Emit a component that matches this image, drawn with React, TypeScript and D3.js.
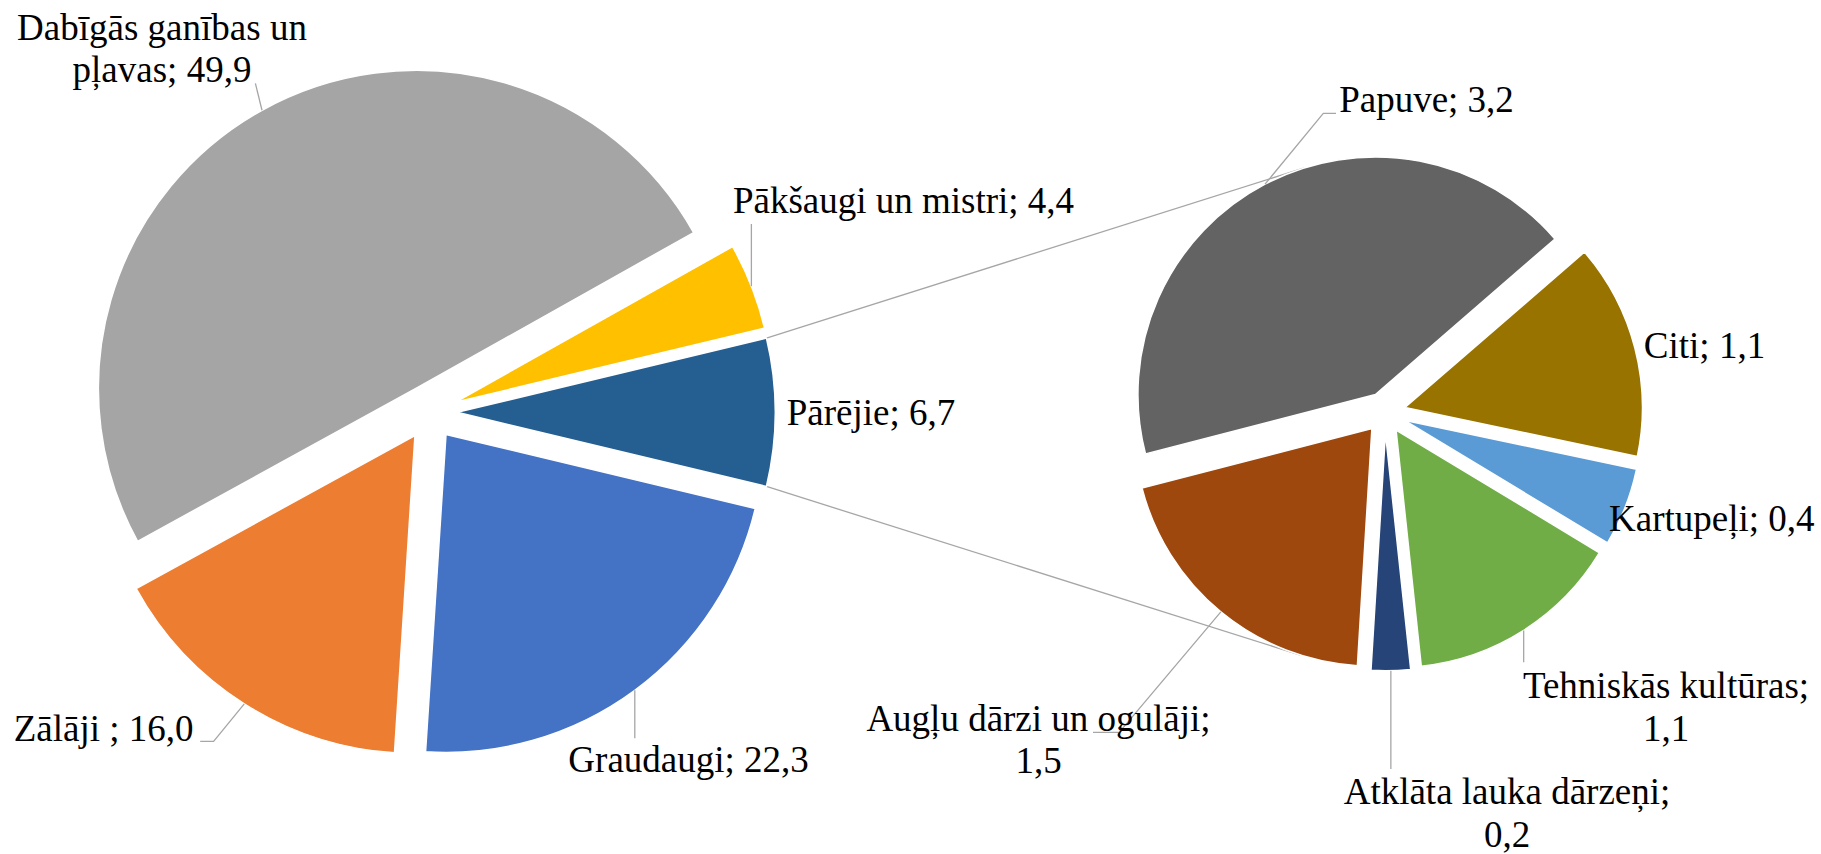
import React from "react";
import * as d3 from "d3";

// ---------- data ----------
const leftCategories = ["Pārējie", "Graudaugi", "Zālāji ", "Dabīgās ganības un pļavas", "Pākšaugi un mistri"];
const leftValues = [6.7, 22.3, 16.0, 49.9, 4.4];
const leftColors = ["#255E91", "#4472C4", "#ED7D31", "#A5A5A5", "#FFC000"];
const otherCategory = "Pārējie";

const rightCategories = ["Papuve", "Citi", "Kartupeļi", "Tehniskās kultūras", "Atklāta lauka dārzeņi", "Augļu dārzi un ogulāji"];
const rightValues = [3.2, 1.1, 0.4, 1.1, 0.2, 1.5];
const rightColors = ["#636363", "#997300", "#5B9BD5", "#70AD47", "#264478", "#9E480E"];

// ---------- layout ----------
const W = 1821;
const H = 854;
const FONT = "Liberation Serif, Tinos, DejaVu Serif, Noto Serif, serif";
const FS = 37;
const LH = 42.5;
const LINE = "#A6A6A6";

const leftPie = { cx: 429.7, cy: 412.3, r: 318, explode: 27.5 };
const rightPie = { cx: 1385, cy: 412.7, r: 237.5, explode: 20.6, startDeg: -104.5 };

type Pt = [number | null, number | null];
type LabelLayout = { x: number; y: number; brk?: number; leader?: Pt[] };

const leftLabels: LabelLayout[] = [
  { x: 871, y: 425 },
  { x: 688.6, y: 772.3, leader: [[null, 738.3]] },
  { x: 103.6, y: 740.7, leader: [[213.6, 741.3], [200.2, 741.3]] },
  { x: 162, y: 39.5, brk: 3, leader: [[255.4, 83.3]] },
  { x: 903.5, y: 213.3, leader: [[null, 224]] },
];
const rightLabels: LabelLayout[] = [
  { x: 1426.5, y: 111.7, leader: [[1323.3, 113.3], [1336, 113.3]] },
  { x: 1704.5, y: 357.5 },
  { x: 1711.8, y: 530.7 },
  { x: 1666, y: 698, brk: 2, leader: [[null, 662.3]] },
  { x: 1507, y: 804, brk: 3, leader: [[null, 769]] },
  { x: 1038.5, y: 730.7, brk: 4, leader: [[1119.2, 732.3], [1093, 732.3]] },
];

const fmt = (v: number) => d3.format(".1f")(v).replace(".", ",");

function layoutPie(values: number[], start: number, cx: number, cy: number, r: number, explode: number) {
  const arcs = d3.pie<number>().value((d) => d).sort(null).startAngle(start).endAngle(start + 2 * Math.PI)(values);
  return arcs.map((a) => {
    const mid = (a.startAngle + a.endAngle) / 2;
    const ox = cx + Math.sin(mid) * explode;
    const oy = cy - Math.cos(mid) * explode;
    const at = (ang: number): [number, number] => [ox + Math.sin(ang) * r, oy - Math.cos(ang) * r];
    return { a, mid, ox, oy, r, at };
  });
}

function tangent(P: [number, number], O: [number, number], R: number, upper: boolean): [number, number] {
  const dx = P[0] - O[0];
  const dy = P[1] - O[1];
  const d = Math.hypot(dx, dy);
  const phi = Math.atan2(dy, dx);
  const alpha = Math.acos(R / d);
  const ang = upper ? phi + alpha : phi - alpha;
  return [O[0] + R * Math.cos(ang), O[1] + R * Math.sin(ang)];
}

export default function App() {
  const otherIdx = leftCategories.indexOf(otherCategory);
  const rightTotal = d3.sum(rightValues);
  const leftGeom = leftValues.map((v, i) => (i === otherIdx ? rightTotal : v));
  const leftTotal = d3.sum(leftGeom);
  const otherAngle = (2 * Math.PI * rightTotal) / leftTotal;
  const leftStart = Math.PI / 2 - otherAngle / 2;

  const L = layoutPie(leftGeom, leftStart, leftPie.cx, leftPie.cy, leftPie.r, leftPie.explode);
  const R = layoutPie(rightValues, (rightPie.startDeg * Math.PI) / 180, rightPie.cx, rightPie.cy, rightPie.r, rightPie.explode);

  const arcGen = d3.arc<any>().innerRadius(0);

  const other = L[otherIdx];
  const pTop = other.at(other.a.startAngle);
  const pBot = other.at(other.a.endAngle);
  const first = R[0];
  const last = R[R.length - 1];
  const tTop = tangent(pTop, [first.ox, first.oy], first.r, true);
  const tBot = tangent(pBot, [last.ox, last.oy], last.r, false);

  const renderSlices = (S: ReturnType<typeof layoutPie>, colors: string[], key: string) =>
    S.map((s, i) => (
      <path
        key={key + i}
        transform={`translate(${s.ox},${s.oy})`}
        d={arcGen.outerRadius(s.r)(s.a) || ""}
        fill={colors[i]}
        stroke="#ffffff"
        strokeWidth={1.5}
      />
    ));

  const renderLabels = (S: ReturnType<typeof layoutPie>, cats: string[], vals: number[], lay: LabelLayout[], key: string) =>
    S.map((s, i) => {
      const l = lay[i];
      const text = `${cats[i]}; ${fmt(vals[i])}`;
      const words = text.split(" ");
      const lines = l.brk ? [words.slice(0, l.brk).join(" "), words.slice(l.brk).join(" ")] : [text];
      let leaderPath: string | null = null;
      if (l.leader) {
        const p0 = s.at(s.mid);
        const pts: [number, number][] = [p0];
        l.leader.forEach((p) => {
          const prev = pts[pts.length - 1];
          pts.push([p[0] == null ? prev[0] : p[0], p[1] == null ? prev[1] : p[1]]);
        });
        leaderPath = d3.line()(pts);
      }
      return (
        <g key={key + i}>
          {leaderPath && <path d={leaderPath} fill="none" stroke={LINE} strokeWidth={1.3} />}
          <text x={l.x} y={l.y} textAnchor="middle" style={{ fontFamily: FONT, fontSize: FS }} fill="#000">
            {lines.map((t, j) => (
              <tspan key={j} x={l.x} y={l.y + j * LH}>
                {t}
              </tspan>
            ))}
          </text>
        </g>
      );
    });

  return (
    <svg
      width={W}
      height={H}
      viewBox={`0 0 ${W} ${H}`}
      style={{ position: "absolute", left: 0, top: 0, background: "#fff" }}
    >
      <rect width={W} height={H} fill="#fff" />
      <line x1={pTop[0]} y1={pTop[1]} x2={tTop[0]} y2={tTop[1]} stroke={LINE} strokeWidth={1.3} />
      <line x1={pBot[0]} y1={pBot[1]} x2={tBot[0]} y2={tBot[1]} stroke={LINE} strokeWidth={1.3} />
      {renderSlices(L, leftColors, "l")}
      {renderSlices(R, rightColors, "r")}
      {renderLabels(L, leftCategories, leftValues, leftLabels, "ll")}
      {renderLabels(R, rightCategories, rightValues, rightLabels, "rl")}
    </svg>
  );
}
